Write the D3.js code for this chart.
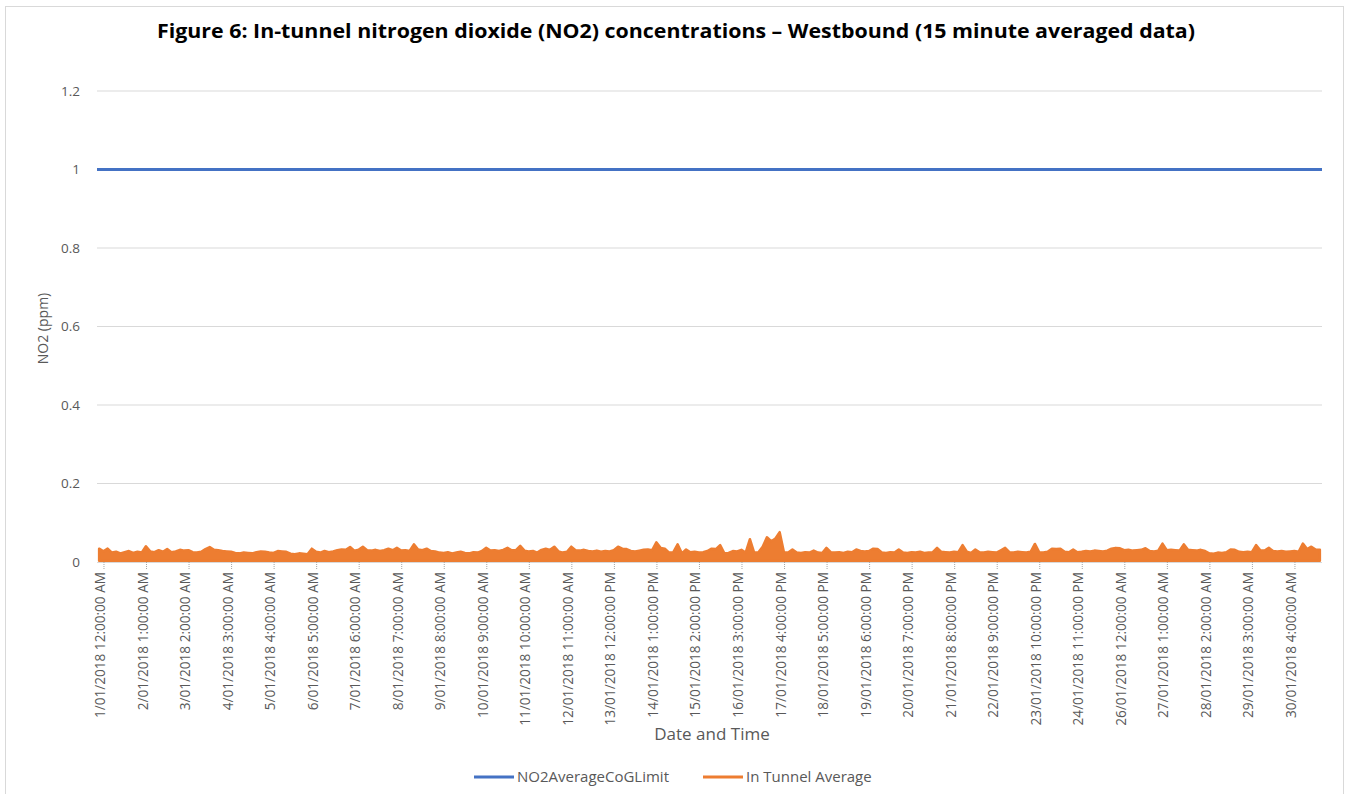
<!DOCTYPE html>
<html>
<head>
<meta charset="utf-8">
<script src="https://cdn.jsdelivr.net/npm/d3@7"></script>
<style>
  html, body { margin: 0; padding: 0; background: #fff; }
  svg { display: block; font-family: "Open Sans", "Liberation Sans", sans-serif; }
</style>
</head>
<body>
<div id="chart"></div>
<script>
const width = 1351;
const height = 794;

// y axis ticks (ppm)
const yTicks = [0, 0.2, 0.4, 0.6, 0.8, 1, 1.2];

// category labels shown on the x axis (every 25 hours)
const xLabels = [
  "1/01/2018 12:00:00 AM", "2/01/2018 1:00:00 AM", "3/01/2018 2:00:00 AM",
  "4/01/2018 3:00:00 AM", "5/01/2018 4:00:00 AM", "6/01/2018 5:00:00 AM",
  "7/01/2018 6:00:00 AM", "8/01/2018 7:00:00 AM", "9/01/2018 8:00:00 AM",
  "10/01/2018 9:00:00 AM", "11/01/2018 10:00:00 AM", "12/01/2018 11:00:00 AM",
  "13/01/2018 12:00:00 PM", "14/01/2018 1:00:00 PM", "15/01/2018 2:00:00 PM",
  "16/01/2018 3:00:00 PM", "17/01/2018 4:00:00 PM", "18/01/2018 5:00:00 PM",
  "19/01/2018 6:00:00 PM", "20/01/2018 7:00:00 PM", "21/01/2018 8:00:00 PM",
  "22/01/2018 9:00:00 PM", "23/01/2018 10:00:00 PM", "24/01/2018 11:00:00 PM",
  "26/01/2018 12:00:00 AM", "27/01/2018 1:00:00 AM", "28/01/2018 2:00:00 AM",
  "29/01/2018 3:00:00 AM", "30/01/2018 4:00:00 AM"
];
const labelStepHours = 25;

// time span of the record, hours relative to 1/01/2018 00:00
const firstHour = -4.1;
const binHours = 2.5;

// NO2 limit (ppm)
const limitValue = 1;

// In tunnel average, peak of each 2.5 h block (ppm)
const inTunnelPeak = [
  0.034, 0.027, 0.034, 0.024, 0.026, 0.022, 0.025, 0.028, 0.023, 0.026,
  0.024, 0.040, 0.027, 0.025, 0.030, 0.026, 0.033, 0.025, 0.027, 0.031,
  0.029, 0.030, 0.025, 0.024, 0.026, 0.033, 0.038, 0.031, 0.030, 0.028,
  0.027, 0.026, 0.023, 0.022, 0.024, 0.023, 0.022, 0.025, 0.027, 0.026,
  0.024, 0.023, 0.028, 0.027, 0.026, 0.021, 0.020, 0.022, 0.021, 0.020,
  0.034, 0.026, 0.024, 0.028, 0.025, 0.027, 0.030, 0.032, 0.031, 0.038,
  0.029, 0.031, 0.039, 0.030, 0.029, 0.031, 0.028, 0.030, 0.034, 0.030,
  0.036, 0.029, 0.030, 0.028, 0.045, 0.032, 0.030, 0.034, 0.028, 0.027,
  0.024, 0.023, 0.025, 0.022, 0.024, 0.026, 0.023, 0.022, 0.025, 0.024,
  0.028, 0.036, 0.029, 0.030, 0.028, 0.031, 0.036, 0.030, 0.030, 0.041,
  0.029, 0.027, 0.028, 0.024, 0.031, 0.034, 0.031, 0.039, 0.027, 0.024,
  0.026, 0.039, 0.030, 0.029, 0.031, 0.028, 0.027, 0.029, 0.026, 0.028,
  0.027, 0.030, 0.039, 0.034, 0.033, 0.028, 0.027, 0.029, 0.031, 0.032,
  0.030, 0.050, 0.036, 0.034, 0.024, 0.025, 0.045, 0.022, 0.032, 0.025,
  0.026, 0.024, 0.025, 0.028, 0.034, 0.033, 0.043, 0.022, 0.023, 0.028,
  0.027, 0.031, 0.024, 0.058, 0.024, 0.025, 0.039, 0.063, 0.053, 0.060,
  0.076, 0.025, 0.024, 0.032, 0.024, 0.023, 0.025, 0.024, 0.029, 0.024,
  0.023, 0.036, 0.025, 0.024, 0.025, 0.023, 0.026, 0.025, 0.032, 0.028,
  0.027, 0.028, 0.034, 0.033, 0.024, 0.023, 0.025, 0.024, 0.032, 0.024,
  0.023, 0.025, 0.024, 0.026, 0.023, 0.024, 0.025, 0.036, 0.026, 0.025,
  0.024, 0.026, 0.025, 0.043, 0.026, 0.023, 0.032, 0.025, 0.024, 0.026,
  0.025, 0.024, 0.030, 0.036, 0.025, 0.024, 0.026, 0.025, 0.024, 0.026,
  0.046, 0.025, 0.024, 0.026, 0.034, 0.033, 0.034, 0.026, 0.025, 0.032,
  0.025, 0.026, 0.028, 0.027, 0.029, 0.028, 0.027, 0.029, 0.034, 0.036,
  0.035, 0.030, 0.031, 0.029, 0.030, 0.031, 0.035, 0.028, 0.027, 0.029,
  0.047, 0.030, 0.031, 0.030, 0.029, 0.045, 0.031, 0.030, 0.029, 0.031,
  0.028, 0.022, 0.021, 0.024, 0.023, 0.025, 0.032, 0.031, 0.026, 0.025,
  0.026, 0.025, 0.043, 0.030, 0.029, 0.036, 0.028, 0.027, 0.028, 0.026,
  0.027, 0.028, 0.026, 0.047, 0.033, 0.039, 0.032, 0.031
];
// lowest reading of the band (ppm)
const inTunnelFloor = 0.003;

const seriesNames = ["NO2AverageCoGLimit", "In Tunnel Average"];
const seriesColors = ["#4472c4", "#ed7d31"];

const plot = { left: 97, right: 1322, top: 91, bottom: 562 };

const lastHour = firstHour + inTunnelPeak.length * binHours;

const x = d3.scaleLinear().domain([firstHour, lastHour]).range([plot.left, plot.right]);
const y = d3.scaleLinear().domain([0, 1.2]).range([plot.bottom, plot.top]);

const svg = d3.select("#chart").append("svg")
  .attr("width", width)
  .attr("height", height);

// chart frame
svg.append("rect")
  .attr("x", 5.5).attr("y", 6.5)
  .attr("width", 1338).attr("height", 800)
  .attr("fill", "#fff")
  .attr("stroke", "#d9d9d9");

svg.append("text")
  .attr("x", 676)
  .attr("y", 38)
  .attr("text-anchor", "middle")
  .attr("font-size", 19)
  .attr("font-weight", 700)
  .attr("fill", "#000")
  .attr("textLength", 1038)
  .attr("lengthAdjust", "spacingAndGlyphs")
  .text("Figure 6: In-tunnel nitrogen dioxide (NO2) concentrations \u2013 Westbound (15 minute averaged data)");

// gridlines
svg.append("g")
  .selectAll("line")
  .data(yTicks.filter(d => d > 0))
  .join("line")
  .attr("x1", plot.left).attr("x2", plot.right)
  .attr("y1", d => y(d)).attr("y2", d => y(d))
  .attr("stroke", "#d9d9d9")
  .attr("stroke-width", 1);

const yAxis = svg.append("g")
  .attr("transform", `translate(${plot.left},0)`)
  .call(d3.axisLeft(y).tickValues(yTicks).tickSize(0).tickPadding(17).tickFormat(d3.format("~g")));
yAxis.select(".domain").remove();
yAxis.selectAll("text")
  .attr("font-size", 13.5)
  .attr("fill", "#595959")
  .attr("font-family", "Open Sans, sans-serif");

svg.append("text")
  .attr("transform", `translate(48,${(plot.top + plot.bottom) / 2 + 2}) rotate(-90)`)
  .attr("text-anchor", "middle")
  .attr("font-size", 14)
  .attr("fill", "#595959")
  .text("NO2 (ppm)");

// x axis
const tickHours = xLabels.map((d, i) => i * labelStepHours);
svg.append("line")
  .attr("x1", plot.left).attr("x2", plot.right)
  .attr("y1", plot.bottom + 0.5).attr("y2", plot.bottom + 0.5)
  .attr("stroke", "#d9d9d9");

svg.append("g")
  .selectAll("line")
  .data(tickHours)
  .join("line")
  .attr("x1", d => x(d)).attr("x2", d => x(d))
  .attr("y1", plot.bottom).attr("y2", plot.bottom + 8)
  .attr("stroke", "#a6a6a6")
  .attr("stroke-dasharray", "1,1");

svg.append("g")
  .selectAll("text")
  .data(xLabels)
  .join("text")
  .attr("transform", (d, i) => `translate(${x(tickHours[i]) + 1},${plot.bottom + 10}) rotate(-90)`)
  .attr("text-anchor", "end")
  .attr("font-size", 13.6)
  .attr("fill", "#595959")
  .text(d => d);

svg.append("text")
  .attr("x", 712)
  .attr("y", 740)
  .attr("text-anchor", "middle")
  .attr("font-size", 17)
  .attr("fill", "#595959")
  .text("Date and Time");

// limit line
svg.append("line")
  .attr("x1", plot.left).attr("x2", plot.right)
  .attr("y1", y(limitValue)).attr("y2", y(limitValue))
  .attr("stroke", seriesColors[0])
  .attr("stroke-width", 3);

// in tunnel average band
const bins = inTunnelPeak.map((v, i) => ({ t: firstHour + (i + 0.5) * binHours, v }));

const area = d3.area()
  .curve(d3.curveLinear)
  .x(d => x(d.t))
  .y0(y(inTunnelFloor))
  .y1(d => y(d.v));

svg.append("path")
  .datum(bins)
  .attr("d", area)
  .attr("fill", seriesColors[1])
  .attr("stroke", seriesColors[1])
  .attr("stroke-width", 2.5)
  .attr("stroke-linejoin", "round");

// legend
const legend = svg.append("g").attr("transform", "translate(0,777)");
const legendItems = [
  { name: seriesNames[0], color: seriesColors[0], x: 474 },
  { name: seriesNames[1], color: seriesColors[1], x: 703 }
];
const li = legend.selectAll("g").data(legendItems).join("g")
  .attr("transform", d => `translate(${d.x},0)`);
li.append("line")
  .attr("x1", 0).attr("x2", 40)
  .attr("y1", 0).attr("y2", 0)
  .attr("stroke", d => d.color)
  .attr("stroke-width", 3);
li.append("text")
  .attr("x", 43)
  .attr("y", 5)
  .attr("font-size", 15)
  .attr("fill", "#595959")
  .text(d => d.name);
</script>
</body>
</html>
